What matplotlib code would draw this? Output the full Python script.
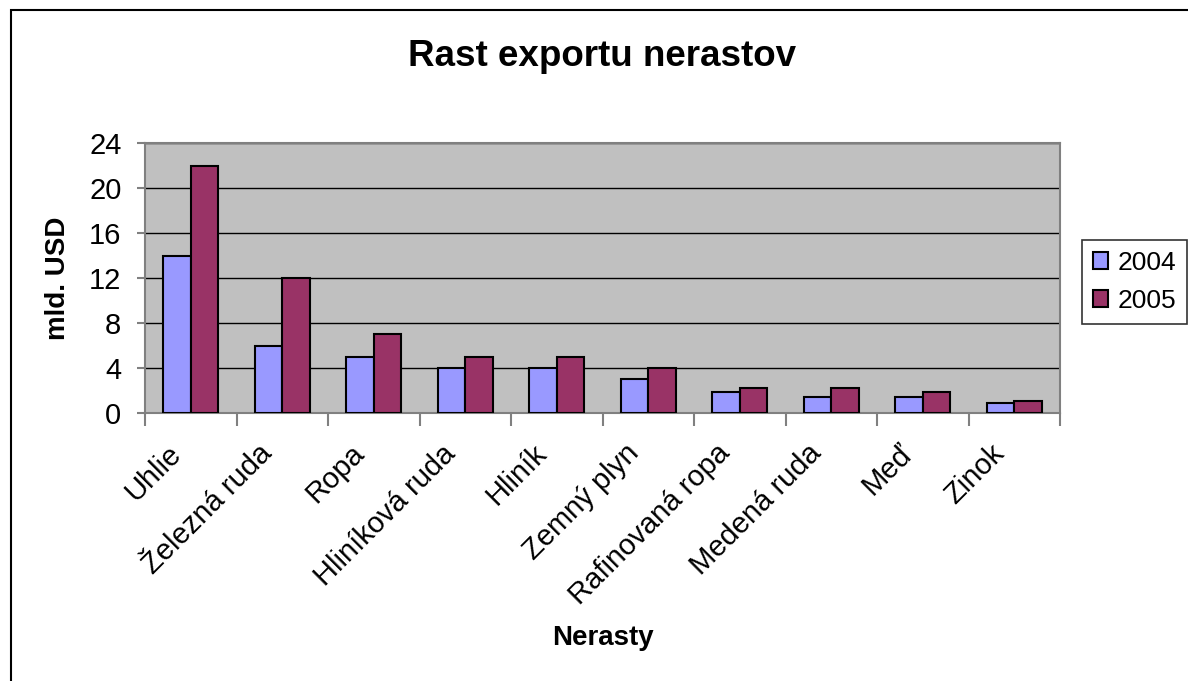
import matplotlib.pyplot as plt
import numpy as np
from matplotlib.patches import Rectangle

plt.rcParams['font.family'] = ['Liberation Sans', 'DejaVu Sans']

categories = ['Uhlie', 'Železná ruda', 'Ropa', 'Hliníková ruda', 'Hliník',
              'Zemný plyn', 'Rafinovaná ropa', 'Medená ruda', 'Meď', 'Zinok']
values_2004 = [14, 6, 5, 4, 4, 3, 1.9, 1.4, 1.4, 0.9]
values_2005 = [22, 12, 7, 5, 5, 4, 2.2, 2.2, 1.9, 1.1]
series_labels = ['2004', '2005']
yticks = [0, 4, 8, 12, 16, 20, 24]

fig = plt.figure(figsize=(11.88, 6.81), dpi=100)
ax = fig.add_axes([145 / 1188, 1 - 413 / 681, 915 / 1188, 270 / 681])

# outer chart border (left and top edges visible)
fig.patches.append(Rectangle((11 / 1188, -0.1), 1.2, 1 - 10 / 681 + 0.1,
                             transform=fig.transFigure, fill=False,
                             edgecolor='black', linewidth=1.5))

x = np.arange(len(categories))
w = 0.3
ax.bar(x - w / 2, values_2004, w, color='#9999FF', edgecolor='black',
       linewidth=1.5, label=series_labels[0], zorder=3)
ax.bar(x + w / 2, values_2005, w, color='#993366', edgecolor='black',
       linewidth=1.5, label=series_labels[1], zorder=3)

ax.set_facecolor('#C0C0C0')
ax.set_xlim(-0.5, len(categories) - 0.5)
ax.set_ylim(0, 24)
ax.set_yticks(yticks)
ax.yaxis.grid(True, color='black', linewidth=1)
ax.set_axisbelow(True)
for s in ax.spines.values():
    s.set_color('#808080')
    s.set_linewidth(1.5)

# category boundaries carry the tick marks, labels sit on invisible minor ticks
ax.set_xticks(np.arange(len(categories) + 1) - 0.5)
ax.set_xticklabels([])
ax.set_xticks(x - 0.155, minor=True)
ax.set_xticklabels(categories, minor=True, rotation=45, ha='right',
                   va='center', rotation_mode='anchor', fontsize=21)
ax.tick_params(axis='x', which='major', length=9, color='#808080', width=1.5)
ax.tick_params(axis='x', which='minor', length=0, pad=26)
ax.tick_params(axis='y', length=6, color='#808080', width=1.5, labelsize=21, pad=11)

ax.set_ylabel('mld. USD', fontsize=20, fontweight='bold')
ax.yaxis.set_label_coords(-0.0808, 0.5)
ax.set_xlabel('Nerasty', fontsize=20, fontweight='bold')
ax.xaxis.set_label_coords(0.5, -0.785)
ax.set_title('Rast exportu nerastov', fontsize=26.5, fontweight='bold', pad=55.5)

leg = fig.legend(loc='upper left', bbox_to_anchor=(1082 / 1188, 1 - 240 / 681),
                 fontsize=19, frameon=True, fancybox=False, edgecolor='black',
                 handlelength=0.6, handleheight=0.6, handletextpad=0.35,
                 borderpad=0.4, labelspacing=0.55, borderaxespad=0)
leg.get_frame().set_linewidth(1.2)

fig.savefig('out.png', dpi=100)
